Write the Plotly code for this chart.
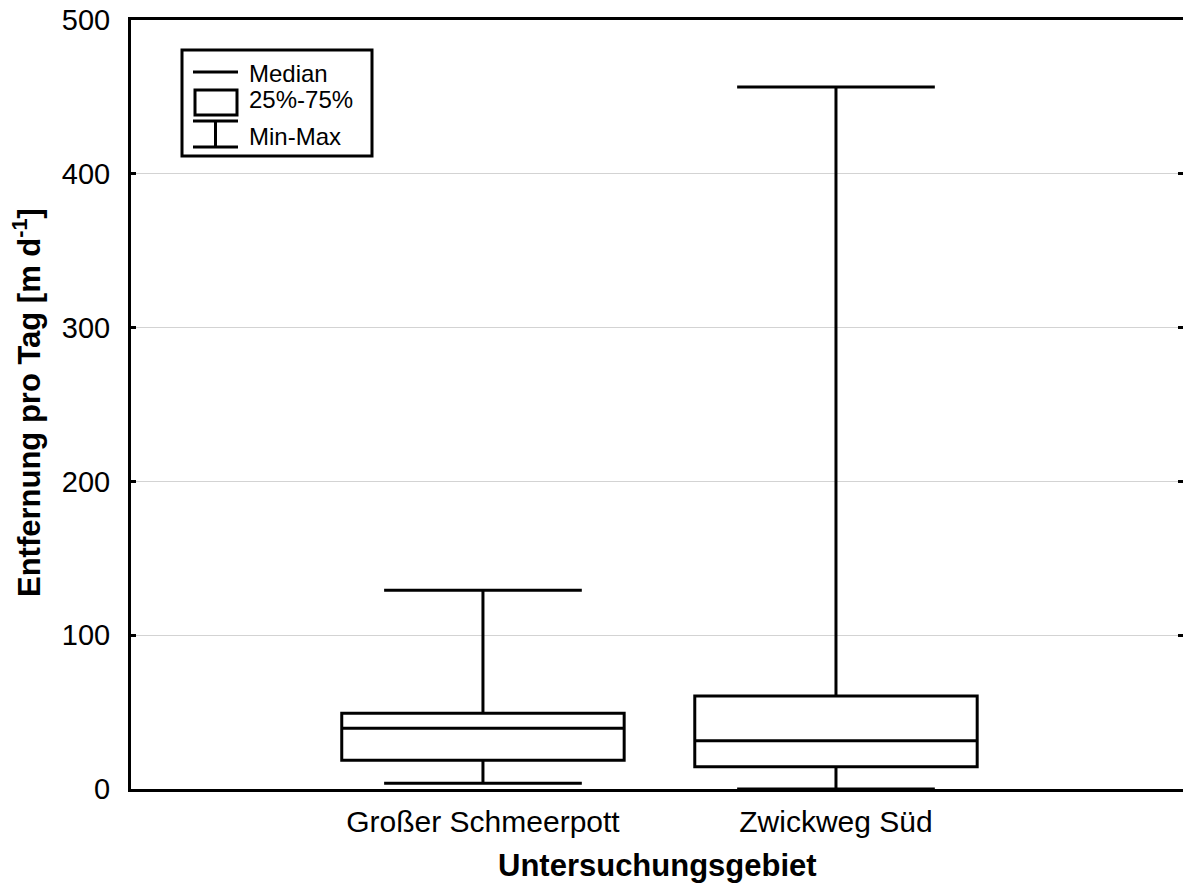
import plotly.graph_objects as go

categories = ["Großer Schmeerpott", "Zwickweg Süd"]
x_pos = [0, 1]
q_min = [3.8, 0.0]
q1 = [18.7, 14.5]
median = [39.5, 31.3]
q3 = [49.3, 60.5]
q_max = [129.2, 456.5]
y_ticks = [0, 100, 200, 300, 400, 500]

FONT = "Liberation Sans, Arial, sans-serif"

fig = go.Figure()
fig.add_trace(go.Box(
    x=x_pos, q1=q1, median=median, q3=q3,
    lowerfence=q_min, upperfence=q_max,
    width=0.8, whiskerwidth=0.7,
    fillcolor="rgba(0,0,0,0)",
    line=dict(color="black", width=3),
    boxpoints=False, showlegend=False, hoverinfo="skip",
))
# invisible helper trace so the right-hand tick axis is drawn
fig.add_trace(go.Scatter(x=[x_pos[0]], y=[y_ticks[0]], yaxis="y2", mode="markers",
                         marker=dict(opacity=0), showlegend=False, hoverinfo="skip"))

fig.update_layout(
    width=1183, height=890,
    margin=dict(l=131, r=0, t=20, b=101),
    plot_bgcolor="white", paper_bgcolor="white",
    font=dict(family=FONT, color="black", size=29),
    showlegend=False,
    yaxis2=dict(overlaying="y", side="right", range=[0, 500], tickvals=y_ticks,
                showticklabels=False, showline=False, showgrid=False, zeroline=False,
                ticks="inside", ticklen=5, tickwidth=3, tickcolor="black"),
)
fig.update_xaxes(
    range=[-0.997, 1.983], tickvals=x_pos, ticktext=categories,
    showline=True, linecolor="black", linewidth=3, mirror=True,
    ticks="", showgrid=False, zeroline=False,
    tickfont=dict(size=30, family=FONT), ticklabelstandoff=4,
)
fig.layout.yaxis.update(
    range=[0, 500], tickvals=y_ticks,
    showline=True, linecolor="black", linewidth=3,
    ticks="inside", ticklen=5, tickwidth=3, tickcolor="black",
    showgrid=True, gridcolor="#d3d3d3", gridwidth=1, zeroline=False,
    tickfont=dict(size=29, family=FONT), ticklabelstandoff=12,
)

# axis titles
fig.add_annotation(text="<b>Untersuchungsgebiet</b>", xref="paper", yref="paper",
                   x=0.5, y=-0.1, yanchor="middle", showarrow=False,
                   font=dict(size=31, family=FONT))
fig.add_annotation(text="<b>Entfernung pro Tag [m d<sup>-1</sup>]</b>", xref="paper", yref="paper",
                   x=-0.099, xanchor="center", y=0.503, yanchor="middle", textangle=-90,
                   showarrow=False, font=dict(size=31, family=FONT))

# legend box (drawn in pixel coordinates relative to the plot area)
def px_x(px):
    return (px - 131) / (1183 - 131)

def px_y(py):
    return 1 - (py - 20) / (789 - 20)

lw = dict(color="black", width=3)
shapes = [
    dict(type="rect", xref="paper", yref="paper", x0=px_x(182), x1=px_x(372), y0=px_y(50), y1=px_y(156), line=lw),
    dict(type="line", xref="paper", yref="paper", x0=px_x(193), x1=px_x(238), y0=px_y(72), y1=px_y(72), line=lw),
    dict(type="rect", xref="paper", yref="paper", x0=px_x(195), x1=px_x(237), y0=px_y(90), y1=px_y(115), line=lw),
    dict(type="line", xref="paper", yref="paper", x0=px_x(193), x1=px_x(238), y0=px_y(121), y1=px_y(121), line=lw),
    dict(type="line", xref="paper", yref="paper", x0=px_x(215.5), x1=px_x(215.5), y0=px_y(121), y1=px_y(147), line=lw),
    dict(type="line", xref="paper", yref="paper", x0=px_x(193), x1=px_x(238), y0=px_y(147), y1=px_y(147), line=lw),
]
fig.update_layout(shapes=shapes)
for label, py in [("Median", 73), ("25%-75%", 99), ("Min-Max", 137)]:
    fig.add_annotation(text=label, xref="paper", yref="paper", x=px_x(247), y=px_y(py),
                       xanchor="left", yanchor="middle", showarrow=False,
                       font=dict(size=24, family=FONT))

fig.write_html("out.html")
